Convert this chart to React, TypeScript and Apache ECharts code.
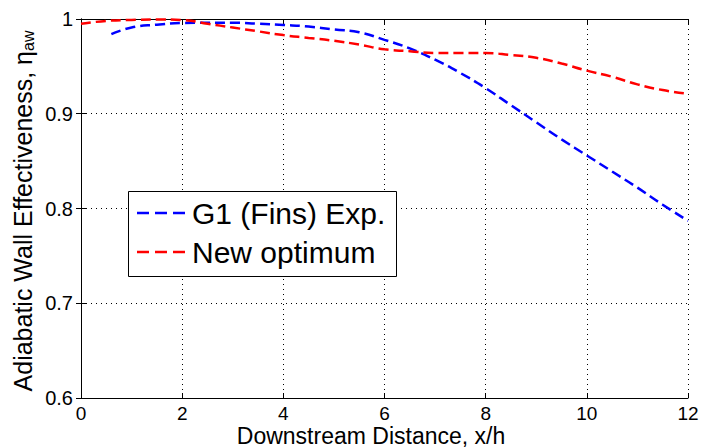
import React, { useEffect, useRef } from "react";
import * as echarts from "echarts";

const g1X = [0.6, 1.0, 1.5, 2.0, 2.5, 3.0, 3.5, 4.0, 4.5, 5.0, 5.5, 6.0, 6.5, 7.0, 7.5, 8.0, 8.5, 9.0, 9.5, 10.0, 10.5, 11.0, 11.5, 12.0];
const g1Y = [0.984, 0.991, 0.994, 0.9958, 0.996, 0.996, 0.995, 0.9937, 0.992, 0.989, 0.986, 0.978, 0.969, 0.957, 0.943, 0.927, 0.909, 0.891, 0.873, 0.856, 0.839, 0.822, 0.804, 0.787];

const newX = [0, 0.5, 1.0, 1.5, 2.0, 2.5, 3.0, 3.5, 4.0, 4.5, 5.0, 5.5, 6.0, 6.5, 7.0, 7.5, 8.0, 8.5, 9.0, 9.5, 10.0, 10.5, 11.0, 11.5, 12.0];
const newY = [0.995, 0.998, 0.999, 0.9995, 0.999, 0.995, 0.991, 0.987, 0.983, 0.98, 0.977, 0.973, 0.968, 0.966, 0.964, 0.964, 0.964, 0.962, 0.959, 0.953, 0.9455, 0.939, 0.931, 0.925, 0.921];

const seriesNames = ["G1 (Fins) Exp.", "New optimum"];
const seriesColors = ["#0000ff", "#ff0000"];

const xTitle = "Downstream Distance, x/h";
const yTitle = "Adiabatic Wall Effectiveness, ";

const FONT = "'Liberation Sans', Arial, Helvetica, sans-serif";

export default function App() {
  const ref = useRef<HTMLDivElement>(null);
  useEffect(() => {
    if (!ref.current) return;
    const chart = echarts.init(ref.current, undefined, { renderer: "svg" });
    const toPairs = (xs: number[], ys: number[]) => xs.map((x, i) => [x, ys[i]]);
    const gridLine = { show: true, lineStyle: { color: "#000", width: 1, type: [1, 4] as any } };
    const axisLine = { show: true, lineStyle: { color: "#000", width: 1 } };
    const tick = { show: true, inside: true, length: 5, lineStyle: { color: "#000", width: 1 } };
    const tickLabel = { color: "#000", fontSize: 19, fontFamily: FONT };
    const legendY = [213, 252];
    chart.setOption({
      animation: false,
      grid: { left: 81, top: 19, right: 15, bottom: 49, containLabel: false, outerBoundsMode: "none" },
      xAxis: [
        {
          type: "value", min: 0, max: 12, interval: 2, position: "bottom",
          axisLine, axisTick: tick, splitLine: gridLine,
          axisLabel: { ...tickLabel, margin: 6 },
        },
        {
          type: "value", min: 0, max: 12, interval: 2, position: "top",
          axisLine, axisTick: tick, splitLine: { show: false }, axisLabel: { show: false },
        },
      ],
      yAxis: [
        {
          type: "value", min: 0.6, max: 1, interval: 0.1, position: "left",
          axisLine, axisTick: tick, splitLine: gridLine,
          axisLabel: { ...tickLabel, fontSize: 20, margin: 8, formatter: (v: number) => String(Math.round(v * 10) / 10) },
        },
        {
          type: "value", min: 0.6, max: 1, interval: 0.1, position: "right",
          axisLine, axisTick: tick, splitLine: { show: false }, axisLabel: { show: false },
        },
      ],
      series: [
        {
          name: seriesNames[0], type: "line", data: toPairs(g1X, g1Y), smooth: true, showSymbol: false,
          lineStyle: { color: seriesColors[0], width: 2.5, type: [10, 5] },
          xAxisIndex: 0, yAxisIndex: 0,
        },
        {
          name: seriesNames[1], type: "line", data: toPairs(newX, newY), smooth: true, showSymbol: false,
          lineStyle: { color: seriesColors[1], width: 2.5, type: [10, 5] },
          xAxisIndex: 0, yAxisIndex: 0,
        },
      ],
      graphic: [
        {
          type: "text", x: 371, y: 435.5,
          style: { text: xTitle, fontSize: 23, fontFamily: FONT, fill: "#000", align: "center", verticalAlign: "middle" },
        },
        {
          type: "text", x: 23, y: 211, rotation: Math.PI / 2,
          style: {
            text: "{m|" + yTitle + "η}{s|aw}", fill: "#000", align: "center", verticalAlign: "middle",
            fontSize: 25, fontFamily: FONT,
            rich: {
              m: { fontSize: 25, fontFamily: FONT, fill: "#000" },
              s: { fontSize: 16, fontFamily: FONT, fill: "#000", verticalAlign: "bottom", padding: [10, 0, 0, 0] },
            },
          },
        },
        {
          type: "rect", left: 128, top: 191,
          shape: { x: 0, y: 0, width: 268, height: 85 },
          style: { fill: "#fff", stroke: "#000", lineWidth: 1 },
          z: 10,
        },
        ...seriesNames.flatMap((nm, i) => [
          {
            type: "line", z: 11,
            shape: { x1: 137, y1: legendY[i], x2: 185, y2: legendY[i] },
            style: { stroke: seriesColors[i], lineWidth: 2.5, lineDash: [12, 6] },
          },
          {
            type: "text", z: 11, x: 192, y: legendY[i],
            style: { text: nm, fontSize: 30, fontFamily: FONT, fill: "#000", verticalAlign: "middle" },
          },
        ]),
      ],
    });
    return () => chart.dispose();
  }, []);
  return (
    <div
      ref={ref}
      style={{ position: "fixed", left: 0, top: 0, width: 703, height: 447, background: "#fff" }}
    />
  );
}
